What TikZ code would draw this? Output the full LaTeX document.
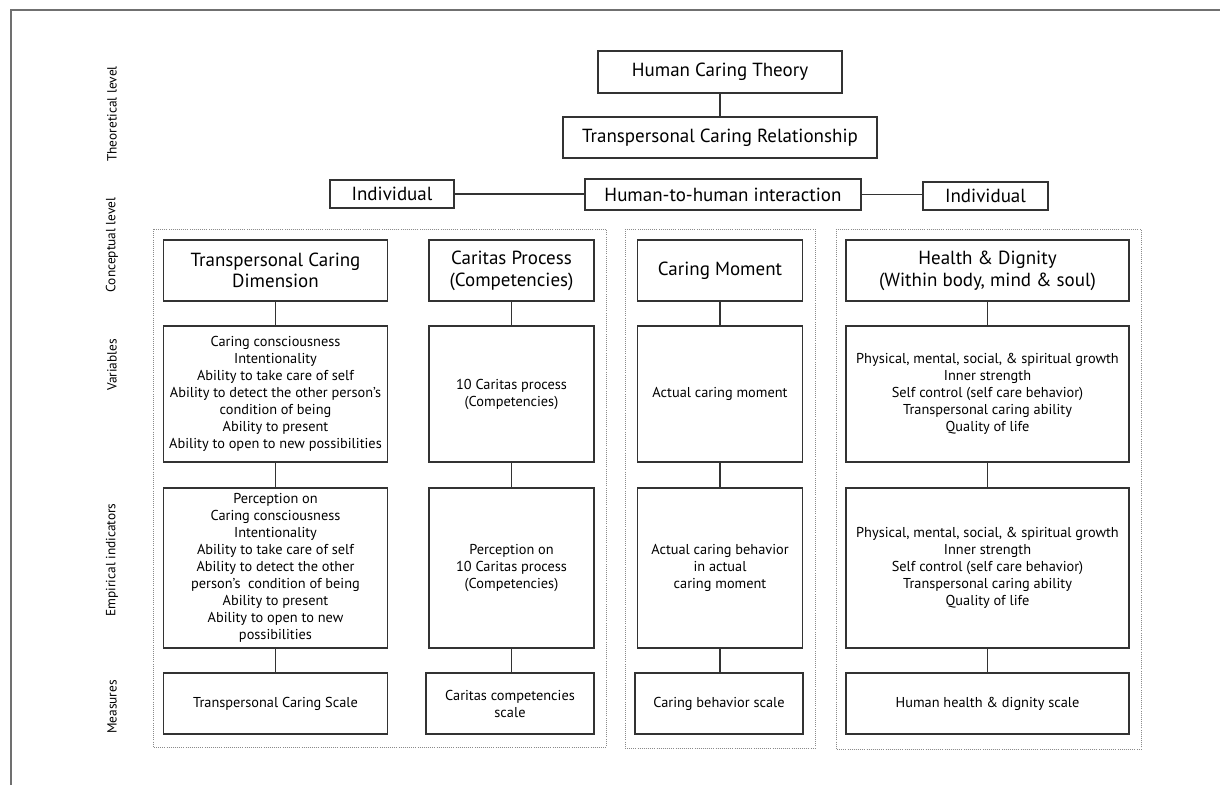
\documentclass[tikz,border=0pt]{standalone}
\usepackage{fontspec}
\setmainfont{PT Sans}
\definecolor{boxline}{HTML}{333333}
\definecolor{framegray}{HTML}{8A8A8A}
\definecolor{bordergray}{HTML}{707070}

\begin{document}
\begin{tikzpicture}[x=0.025cm, y=-0.025cm,
  box/.style={draw=boxline, line width=0.8pt, align=center, inner sep=0pt},
  boxsize/.style 2 args={minimum width=#1*0.025cm, minimum height=#2*0.025cm},
  headtext/.style={font=\fontsize{13.5}{15.4}\selectfont},
  bodytext/.style={font=\fontsize{10.2}{12.1}\selectfont},
  leveltext/.style={rotate=90, font=\fontsize{9.5}{12}\selectfont},
  frame/.style={draw=framegray, densely dotted, line width=0.5pt},
  link/.style={draw=boxline, line width=0.8pt}]

\useasboundingbox (0,0) rectangle (1220,785);
\draw[bordergray, line width=1.4pt] (11,785) -- (11,10) -- (1220,10);

% level labels
\node[leveltext] (lvtheory) at (112,114) {Theoretical level};
\node[leveltext] (lvconcept) at (112,245) {Conceptual level};
\node[leveltext] (lvvar) at (112,365) {Variables};
\node[leveltext] (lvemp) at (112,560) {Empirical indicators};
\node[leveltext] (lvmeas) at (112,707) {Measures};

% theory and relationship
\node[box, headtext, boxsize={244}{42}] (hct) at (720,72) {Human Caring Theory};
\node[box, headtext, boxsize={314}{41}] (tcr) at (720,137.5) {Transpersonal Caring Relationship};
\draw[link] (hct) -- (tcr);

\node[box, headtext, boxsize={124}{28}] (indl) at (392,194) {Individual};
\node[box, headtext, boxsize={276}{31}] (h2h) at (723,194.5) {Human-to-human interaction};
\node[box, headtext, boxsize={125}{28}] (indr) at (985.5,196) {Individual};
\draw[link] (indl.east) -- (indl.east -| h2h.west);
\draw[link] (h2h.east) -- (h2h.east -| indr.west);

% dotted groups
\draw[frame] (153,229) rectangle (606,747);
\draw[frame] (625,229) rectangle (815,748);
\draw[frame] (836,229) rectangle (1141,749);

% column 1
\node[box, headtext, boxsize={224}{61}] (tcdH) at (275.5,270.5) {Transpersonal Caring\\Dimension};
\node[box, bodytext, boxsize={224}{136}] (tcdV) at (275.5,394) {Caring consciousness\\Intentionality\\Ability to take care of self\\Ability to detect the other person’s\\condition of being\\Ability to present\\Ability to open to new possibilities};
\node[box, bodytext, boxsize={224}{160}] (tcdE) at (275.5,568) {Perception on\\Caring consciousness\\Intentionality\\Ability to take care of self\\Ability to detect the other\\person’s\ \ condition of being\\Ability to present\\Ability to open to new\\possibilities};
\node[box, bodytext, boxsize={224}{61}] (tcdM) at (275.5,703.5) {Transpersonal Caring Scale};

% column 2
\node[box, headtext, boxsize={165}{61}] (cpH) at (511.5,270.5) {Caritas Process\\(Competencies)};
\node[box, bodytext, boxsize={165}{136}] (cpV) at (511.5,394) {10 Caritas process\\(Competencies)};
\node[box, bodytext, boxsize={165}{160}] (cpE) at (511.5,568) {Perception on\\10 Caritas process\\(Competencies)};
\node[box, bodytext, boxsize={168}{61}] (cpM) at (510,703.5) {Caritas competencies\\scale};

% column 3
\node[box, headtext, boxsize={165.5}{61}] (cmH) at (720,270.5) {Caring Moment};
\node[box, bodytext, boxsize={165.5}{136}] (cmV) at (720,394) {Actual caring moment};
\node[box, bodytext, boxsize={165.5}{160}] (cmE) at (720,568) {Actual caring behavior\\in actual\\caring moment};
\node[box, bodytext, boxsize={168}{61}] (cmM) at (719,703.5) {Caring behavior scale};

% column 4
\node[box, headtext, boxsize={283}{61}] (hdH) at (987.5,270.5) {Health \& Dignity\\(Within body, mind \& soul)};
\node[box, bodytext, boxsize={283}{136}] (hdV) at (987.5,394) {Physical, mental, social, \& spiritual growth\\Inner strength\\Self control (self care behavior)\\Transpersonal caring ability\\Quality of life};
\node[box, bodytext, boxsize={283}{160}] (hdE) at (987.5,568) {Physical, mental, social, \& spiritual growth\\Inner strength\\Self control (self care behavior)\\Transpersonal caring ability\\Quality of life};
\node[box, bodytext, boxsize={283}{61}] (hdM) at (987.5,703.5) {Human health \& dignity scale};

\foreach \col in {tcd,cp,cm,hd}{
  \draw[link] (\col H) -- (\col V);
  \draw[link] (\col V) -- (\col E);
  \draw[link] (\col E.south) -- (\col E.south |- \col M.north);
}
\end{tikzpicture}
\end{document}
